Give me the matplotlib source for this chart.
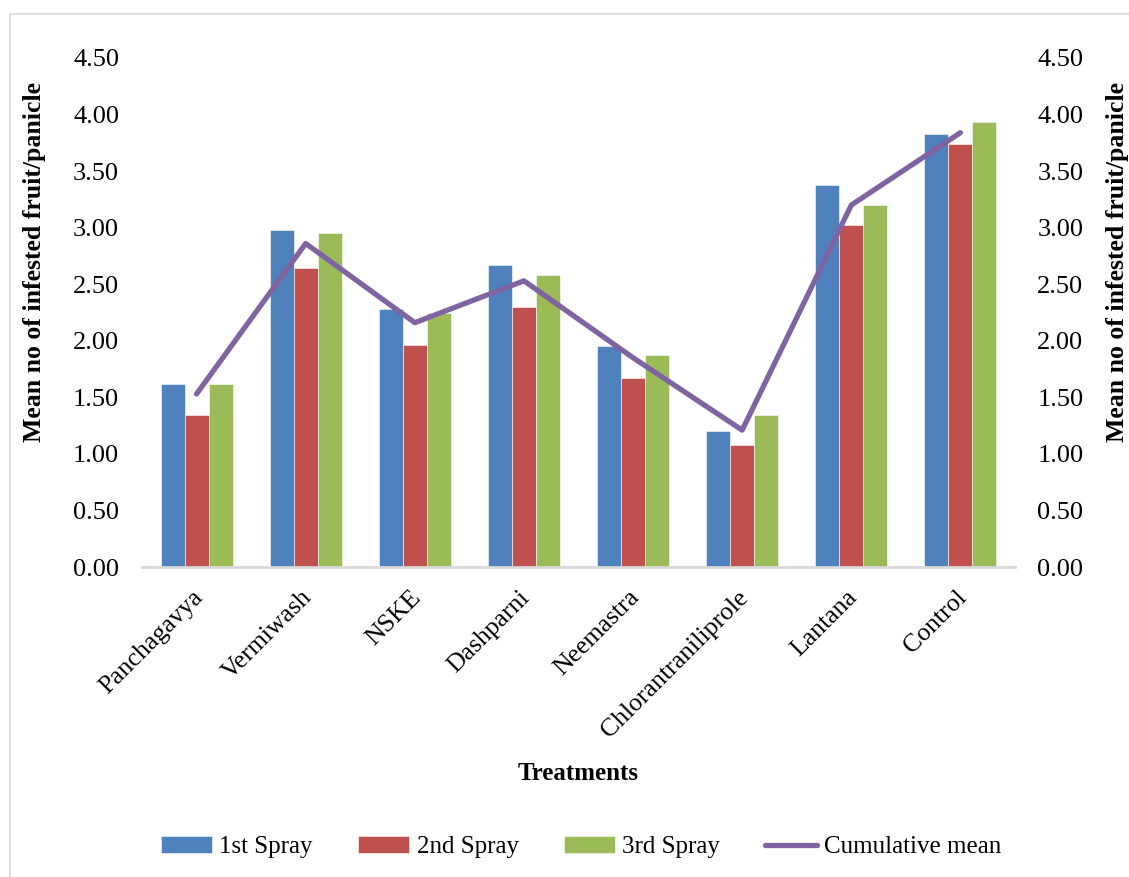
import matplotlib
matplotlib.use("Agg")
import matplotlib.pyplot as plt
import matplotlib.transforms as mtransforms
import numpy as np
from matplotlib.patches import Rectangle

categories = ["Panchagavya", "Vermiwash", "NSKE", "Dashparni", "Neemastra",
              "Chlorantraniliprole", "Lantana", "Control"]
spray1 = [1.62, 2.98, 2.28, 2.67, 1.95, 1.20, 3.38, 3.83]
spray2 = [1.34, 2.64, 1.96, 2.30, 1.67, 1.08, 3.02, 3.74]
spray3 = [1.62, 2.95, 2.25, 2.58, 1.87, 1.34, 3.20, 3.93]
cum_mean = [1.53, 2.86, 2.16, 2.53, 1.85, 1.21, 3.20, 3.84]
yticks = [0.0, 0.5, 1.0, 1.5, 2.0, 2.5, 3.0, 3.5, 4.0, 4.5]

plt.rcParams['font.family'] = ['Liberation Serif', 'DejaVu Serif']

W, H = 1129, 877
fig = plt.figure(figsize=(W / 100, H / 100), dpi=100)

# chart border (light gray)
fig.patches.append(Rectangle((10 / W, -0.01), 1.2, 1 - 14 / H + 0.01, transform=fig.transFigure,
                             fill=False, edgecolor='#D9D9D9', linewidth=1.2))

ax_l, ax_b, ax_w, ax_h = 142, 567, 873, 509
ax = fig.add_axes([ax_l / W, 1 - ax_b / H, ax_w / W, ax_h / H])
x = np.arange(len(categories))
bw = 0.22
colors = ['#4F81BD', '#C0504D', '#9BBB59']
labels = ['1st Spray', '2nd Spray', '3rd Spray']
for i, (vals, c, lab) in enumerate(zip([spray1, spray2, spray3], colors, labels)):
    ax.bar(x + (i - 1) * bw, vals, bw, color=c, label=lab, edgecolor='white', linewidth=0.4, zorder=2)
line, = ax.plot(x, cum_mean, color='#8064A2', linewidth=3.8, label='Cumulative mean', zorder=3,
                solid_capstyle='round')

ax.set_xlim(-0.5, len(categories) - 0.5)
ax.set_ylim(0, 4.5)
ax.set_yticks(yticks)
ax.set_yticklabels([f"{v:.2f}" for v in yticks], fontsize=19)
ax.tick_params(axis='y', length=0, pad=16.5)
ax.tick_params(axis='x', length=0, pad=14)
ax.set_xticks(x)
ax.set_xticklabels(categories, rotation=45, ha='right', va='top', rotation_mode='anchor', fontsize=18.5)
shift = mtransforms.ScaledTranslation(-5 / 100, 0, fig.dpi_scale_trans)
for lbl in ax.get_xticklabels():
    lbl.set_transform(lbl.get_transform() + shift)
for s in ['top', 'right', 'left']:
    ax.spines[s].set_visible(False)
ax.spines['bottom'].set_color('#D9D9D9')
ax.spines['bottom'].set_linewidth(2)
ax.set_ylabel('Mean no of infested fruit/panicle', fontsize=18.5, fontweight='bold')
ax.yaxis.set_label_coords((46 - ax_l) / ax_w, (ax_b - 262) / ax_h)
ax.set_xlabel('Treatments', fontsize=18, fontweight='bold', labelpad=15)

ax2 = ax.twinx()
ax2.set_ylim(0, 4.5)
ax2.set_yticks(yticks)
ax2.set_yticklabels([f"{v:.2f}" for v in yticks], fontsize=19)
ax2.tick_params(axis='y', length=0, pad=16)
for s in ['top', 'right', 'left', 'bottom']:
    ax2.spines[s].set_visible(False)
ax2.set_ylabel('Mean no of infested fruit/panicle', fontsize=18.5, fontweight='bold')
ax2.yaxis.set_label_coords((1106 - ax_l) / ax_w, (ax_b - 262) / ax_h)

handles = [ax.patches[0], ax.patches[8], ax.patches[16], line]
labs = ['1st Spray', '2nd Spray', '3rd Spray', 'Cumulative mean']
fig.legend(handles, labs, loc='center', bbox_to_anchor=(581 / W, 1 - 847 / H), ncol=4,
           frameon=False, fontsize=18, handlelength=2.05, handleheight=0.7, columnspacing=1.8,
           handletextpad=0.3)

fig.savefig('out.png', dpi=100)
